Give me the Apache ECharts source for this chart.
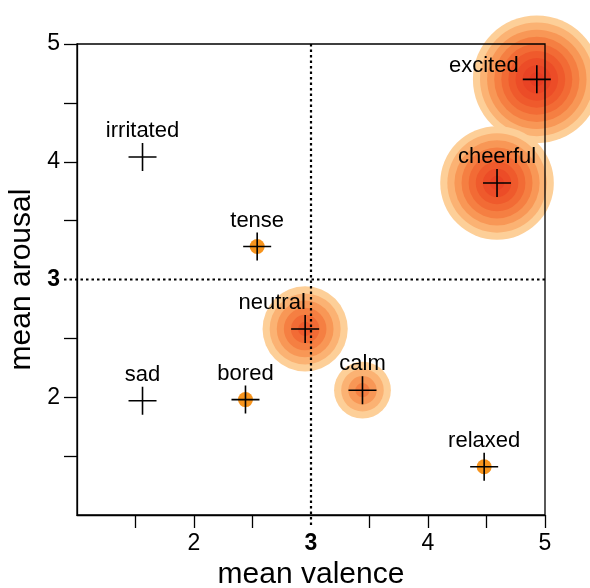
<!DOCTYPE html>
<html>
<head>
<meta charset="utf-8">
<script src="https://cdn.jsdelivr.net/npm/echarts@6/dist/echarts.min.js"></script>
<style>
  html, body { margin: 0; padding: 0; background: #fff; }
  #chart { width: 590px; height: 588px; }
</style>
</head>
<body>
<div id="chart"></div>
<script>
// emotion words, mean valence / arousal, and how many rings each bubble has
const names = ['excited', 'cheerful', 'irritated', 'tense', 'neutral', 'calm', 'sad', 'bored', 'relaxed'];
const valence = [4.93, 4.59, 1.56, 2.54, 2.95, 3.44, 1.56, 2.44, 4.48];
const arousal = [4.70, 3.82, 4.04, 3.28, 2.58, 2.06, 1.97, 1.98, 1.41];
const weight = [9, 8, 0, 1, 6, 4, 0, 1, 1];

const tickValues = [1.5, 2, 2.5, 3.5, 4, 4.5, 5];
const labelValues = [2, 3, 4, 5];
const midValue = 3;

const ringColors = ['#fdcf98', '#fbb273', '#f89756', '#f57f42', '#f26b35', '#ef5a2c', '#ec4c27', '#e94324', '#e63b22'];
const dotColor = '#f7941d';
const ringStep = 7.1;
const font = 'Liberation Sans, Arial, Helvetica, sans-serif';

// some labels are nudged so they don't sit on the bubble edge
const labelShift = { excited: [-53, 13], neutral: [-33, 0] };

const points = names.map((n, i) => [valence[i], arousal[i], weight[i], n]);

const chart = echarts.init(document.getElementById('chart'));

function axisCommon(name, gap) {
    return {
        type: 'value',
        min: 1,
        max: 5,
        name: name,
        nameLocation: 'middle',
        nameGap: gap,
        nameTextStyle: { fontFamily: font, fontSize: 30, color: '#000' },
        axisLine: { show: true, lineStyle: { color: '#000', width: 1.3 } },
        axisTick: {
            show: true,
            length: 13,
            customValues: tickValues,
            lineStyle: { color: '#000', width: 1.3 }
        },
        axisLabel: {
            customValues: labelValues,
            fontFamily: font,
            fontSize: 23,
            color: '#000',
            margin: 17,
            formatter: v => v === midValue ? '{b|' + v + '}' : String(v),
            rich: { b: { fontWeight: 'bold', fontSize: 23, fontFamily: font, color: '#000' } }
        },
        splitLine: { show: false }
    };
}

chart.setOption({
    animation: false,
    grid: {
        left: 77,
        right: 45,
        top: 44,
        bottom: 73,
        outerBoundsMode: 'none',
        containLabel: false,
        show: true,
        borderColor: '#000',
        borderWidth: 1.3,
        z: 1
    },
    xAxis: axisCommon('mean valence', 43),
    yAxis: axisCommon('mean arousal', 40),
    series: [
        {
            // concentric rings
            type: 'custom',
            z: -1,
            data: points,
            renderItem: (params, api) => {
                const w = api.value(2);
                if (!w) return;
                const c = api.coord([api.value(0), api.value(1)]);
                if (w === 1) {
                    return { type: 'circle', shape: { cx: c[0], cy: c[1], r: 7.5 }, style: { fill: dotColor } };
                }
                const children = [];
                for (let i = 0; i < w; i++) {
                    children.push({
                        type: 'circle',
                        shape: { cx: c[0], cy: c[1], r: ringStep * (w - i) },
                        style: { fill: ringColors[i] }
                    });
                }
                return { type: 'group', children: children };
            }
        },
        {
            // dotted lines at the midpoint
            type: 'custom',
            z: 3,
            data: [[midValue, midValue]],
            renderItem: (params, api) => {
                const c = api.coord([api.value(0), api.value(1)]);
                const cs = params.coordSys;
                const st = { stroke: '#000', lineWidth: 2.2, lineDash: [2.5, 3] };
                return {
                    type: 'group',
                    children: [
                        { type: 'line', shape: { x1: c[0], y1: cs.y, x2: c[0], y2: cs.y + cs.height + 13 }, style: st },
                        { type: 'line', shape: { x1: cs.x - 13, y1: c[1], x2: cs.x + cs.width, y2: c[1] }, style: st }
                    ]
                };
            }
        },
        {
            // crosses and word labels
            type: 'scatter',
            z: 4,
            data: points.map(p => ({
                value: p,
                label: { offset: labelShift[p[3]] || [0, 0] }
            })),
            symbol: 'path://M13.2,0h1.6v13.2h13.2v1.6h-13.2v13.2h-1.6v-13.2h-13.2v-1.6h13.2z',
            symbolSize: 28,
            itemStyle: { color: '#000', opacity: 1 },
            label: {
                show: true,
                position: 'top',
                distance: 1,
                formatter: p => p.value[3],
                fontFamily: font,
                fontSize: 22,
                color: '#000'
            }
        }
    ]
});
</script>
</body>
</html>
